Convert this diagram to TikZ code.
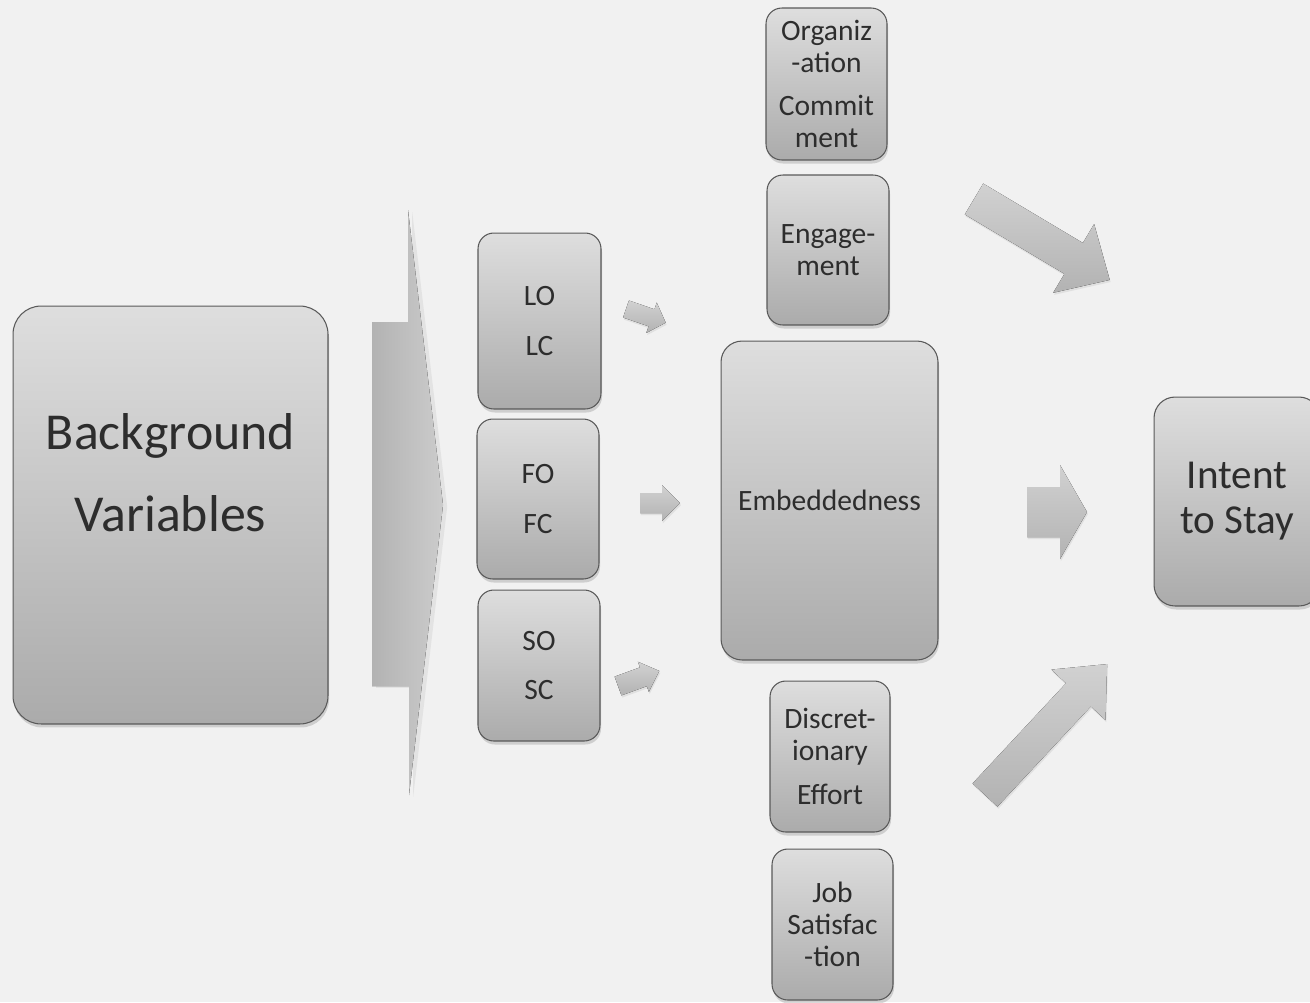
\documentclass[tikz,border=0pt]{standalone}
\usepackage{fontspec}
\setmainfont{Carlito}
\usetikzlibrary{shadows}
\definecolor{paper}{RGB}{241,241,241}
\definecolor{inkgray}{RGB}{45,45,45}
\tikzset{
  varbox/.style={draw=black!65, line width=0.6pt, rounded corners=9pt,
    top color=black!13, bottom color=black!33, inner sep=0pt,
    align=center, text=inkgray, font=\fontsize{16.8}{18.1}\selectfont,
    drop shadow={shadow xshift=0.6pt, shadow yshift=-2pt, opacity=0.3}},
  blockarr/.style={top color=black!18, bottom color=black!30, draw=none,
    drop shadow={shadow xshift=0.5pt, shadow yshift=-1.2pt, opacity=0.15}}
}
\begin{document}
\begin{tikzpicture}[x={(0.02cm,0)}, y={(0,-0.02cm)}]
    \useasboundingbox (0,0) rectangle (1310,1002);
    \clip (0,0) rectangle (1310,1002);
    \fill[paper] (0,0) rectangle (1310,1002);
    % background variables
    \node[varbox, rounded corners=16pt, minimum width=6.3cm, minimum height=8.36cm] (bg) at (170.5,515) {};
    \node[align=center, text=inkgray, font=\fontsize{29.5}{46.5}\selectfont] (bgtext) at (170.5,473) {Background\\Variables};
    % wide arrow
    \fill[left color=black!30, right color=black!20, drop shadow={shadow yshift=-1pt, opacity=0.12}]
      (372,322) -- (408,322) -- (408,210) -- (443,505) -- (409,795) -- (409,686) -- (372,686) -- cycle;
    % fit boxes
    \node[varbox, minimum width=2.46cm, minimum height=3.52cm] (lo) at (539.5,321) {LO\\[10.3pt]LC};
    \node[varbox, minimum width=2.44cm, minimum height=3.2cm] (fo) at (538,499) {FO\\[10.3pt]FC};
    \node[varbox, minimum width=2.44cm, minimum height=3.02cm] (so) at (539,665.5) {SO\\[10.3pt]SC};
    % small arrows
    \begin{scope}[shift={(626,309)}, rotate=-19]
      \fill[blockarr] (0,-9) -- (27,-9) -- (27,-16) -- (42,0) -- (27,16) -- (27,9) -- (0,9) -- cycle;
    \end{scope}
    \begin{scope}[shift={(640,503)}]
      \fill[blockarr] (0,-10) -- (22,-10) -- (22,-18) -- (40,0) -- (22,18) -- (22,10) -- (0,10) -- cycle;
    \end{scope}
    \begin{scope}[shift={(618,686)}, rotate=20]
      \fill[blockarr] (0,-10) -- (27,-10) -- (27,-16) -- (44,0) -- (27,16) -- (27,10) -- (0,10) -- cycle;
    \end{scope}
    % middle column
    \node[varbox, minimum width=2.42cm, minimum height=3.04cm] (org) at (826.5,84) {Organiz\\-ation\\[6.3pt]Commit\\ment};
    \node[varbox, minimum width=2.44cm, minimum height=3.0cm] (eng) at (828,250) {Engage-\\ment};
    \node[varbox, rounded corners=12pt, minimum width=4.34cm, minimum height=6.38cm] (emb) at (829.5,500.5) {Embeddedness};
    \node[varbox, minimum width=2.4cm, minimum height=3.02cm] (dis) at (830,756.5) {Discret-\\ionary\\[6.9pt]Effort};
    \node[varbox, minimum width=2.42cm, minimum height=3.02cm] (job) at (832.5,924.5) {Job\\Satisfac\\-tion};
    % arrows to outcome
    \begin{scope}[shift={(974,199)}, rotate=-30.8]
      \fill[blockarr] (0,-18) -- (116,-18) -- (116,-40) -- (158,0) -- (116,40) -- (116,18) -- (0,18) -- cycle;
    \end{scope}
    \begin{scope}[shift={(1027,512)}]
      \fill[blockarr] (0,-25) -- (33,-25) -- (33,-47) -- (60,0) -- (33,47) -- (33,25) -- (0,25) -- cycle;
    \end{scope}
    \begin{scope}[shift={(985,795)}, rotate=47]
      \fill[blockarr] (0,-17) -- (137,-17) -- (137,-37) -- (179,0) -- (137,37) -- (137,17) -- (0,17) -- cycle;
    \end{scope}
    % outcome
    \node[varbox, rounded corners=12pt, minimum width=3.32cm, minimum height=4.18cm,
      font=\fontsize{23.4}{25.5}\selectfont] (stay) at (1237,501.5) {Intent\\to Stay};
  \end{tikzpicture}
\end{document}
